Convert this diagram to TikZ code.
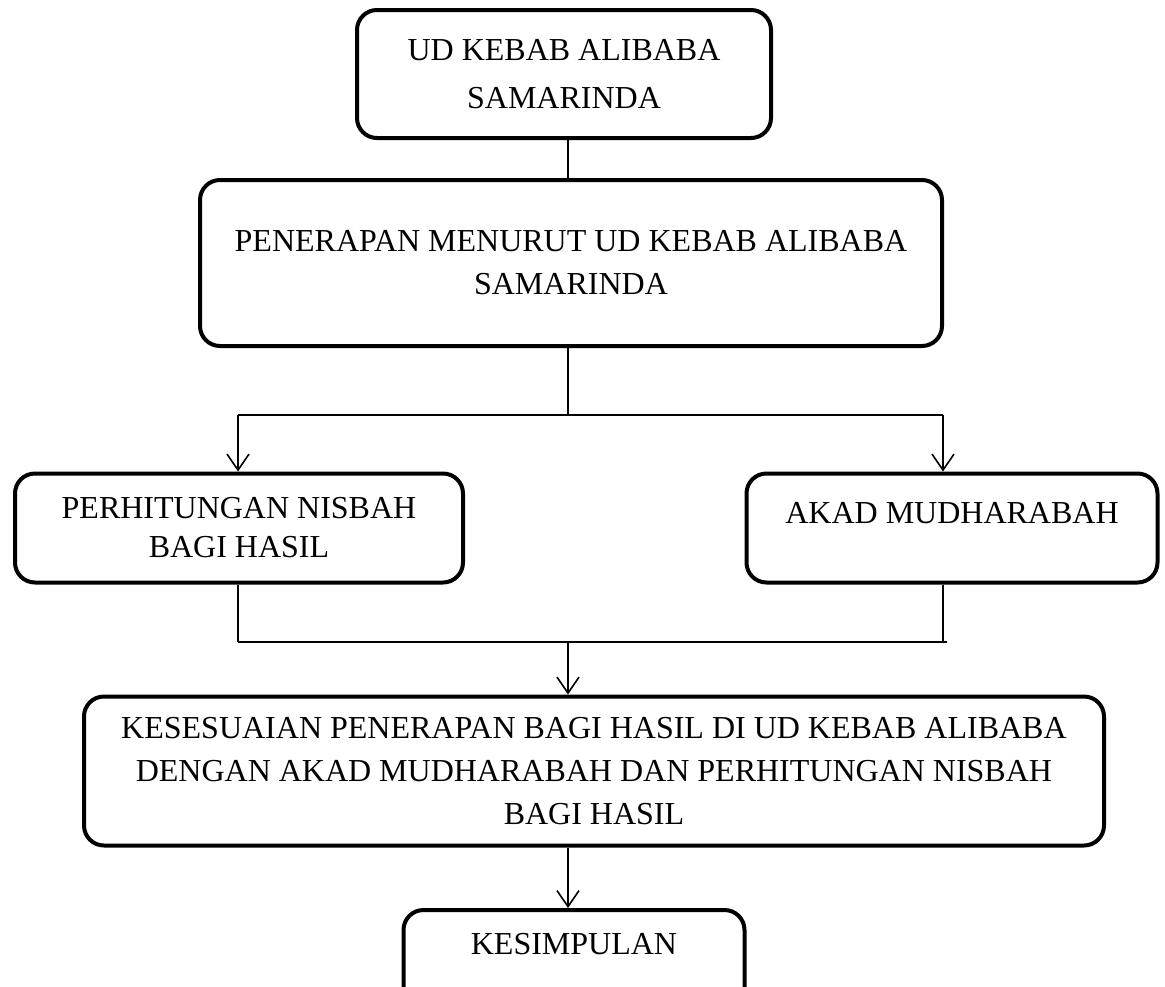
\documentclass[tikz,border=0pt]{standalone}
\usepackage{fontspec}
\setmainfont{Liberation Serif}
\usetikzlibrary{arrows.meta}
\begin{document}
\begin{tikzpicture}[x=1pt, y=-1pt, line width=1.6pt, >={Straight Barb[length=16pt, width=22pt]}, main/.style = {draw, line width=4pt, rounded corners=20pt, align=center, inner sep=0pt, font=\fontsize{32}{43}\selectfont}]
\useasboundingbox (0,0) rectangle (1165,986);
\clip (0,0) rectangle (1165,986);
\node[main, minimum width=414pt, minimum height=128pt, font=\fontsize{32}{48}\selectfont] (ud) at (564,74) {UD KEBAB ALIBABA\\SAMARINDA};
\node[main, minimum width=742pt, minimum height=166pt] (penerapan) at (571,263) {PENERAPAN MENURUT UD KEBAB ALIBABA\\SAMARINDA};
\node[main, minimum width=448pt, minimum height=109pt, font=\fontsize{32}{39}\selectfont] (hitung) at (239,528) {PERHITUNGAN NISBAH\\BAGI HASIL};
\node[main, minimum width=411pt, minimum height=109pt, text depth=30pt] (akad) at (952,528) {AKAD MUDHARABAH};
\node[main, minimum width=1020pt, minimum height=149pt] (sesuai) at (594,771) {KESESUAIAN PENERAPAN BAGI HASIL DI UD KEBAB ALIBABA\\DENGAN AKAD MUDHARABAH DAN PERHITUNGAN NISBAH\\BAGI HASIL};
\node[main, minimum width=341pt, minimum height=100pt, text depth=32pt] (simpul) at (574,960) {KESIMPULAN};
\coordinate (atas) at (568,415);
\coordinate (kiri) at (238,415);
\coordinate (kanan) at (943,415);
\coordinate (bawah) at (568,642);
\coordinate (kiribawah) at (238,642);
\coordinate (kananbawah) at (947,642);
\draw[-] (ud.south -| atas) -- (penerapan.north -| atas);
\draw[-] (penerapan.south -| atas) -- (atas);
\draw[-] (kiri) -- (kanan);
\draw[->] (kiri) -- (kiri |- hitung.north);
\draw[->] (kanan) -- (kanan |- akad.north);
\draw[-] (kiri |- hitung.south) -- (kiribawah);
\draw[-] (kanan |- akad.south) -- (kanan |- kananbawah);
\draw[-] (kiribawah) -- (kananbawah);
\draw[->] (bawah) -- (bawah |- sesuai.north);
\draw[->] (sesuai.south -| bawah) -- (simpul.north -| bawah);
\end{tikzpicture}
\end{document}
